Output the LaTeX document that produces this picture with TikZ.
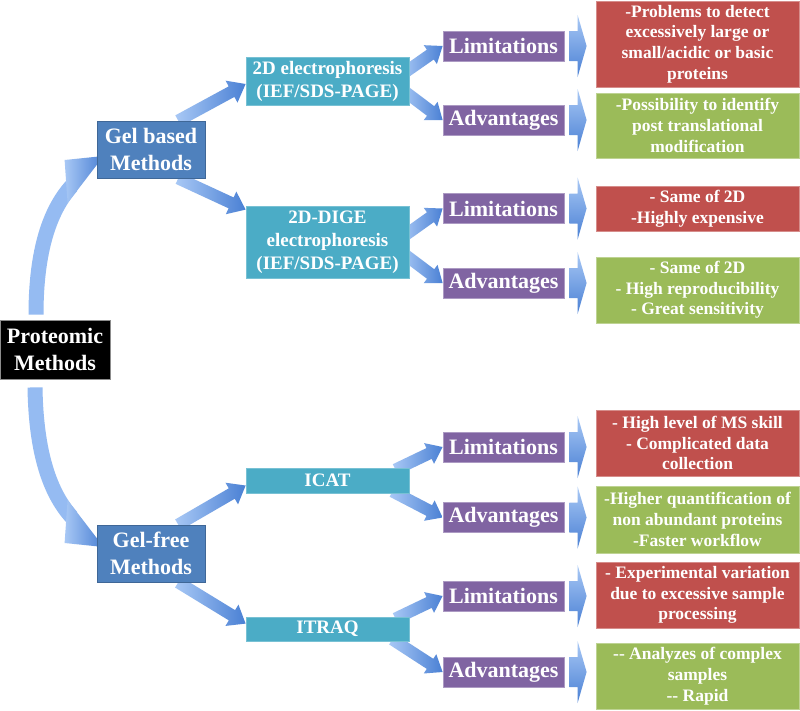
\documentclass[tikz,border=0pt]{standalone}
\usepackage{fontspec}
\newfontfamily\figfont{Liberation Serif}
\usetikzlibrary{calc}
\pgfdeclarelayer{background}
\pgfdeclarelayer{canvas}
\pgfsetlayers{canvas,background,main}
\definecolor{cblue}{HTML}{4F81BD}
\definecolor{caqua}{HTML}{4BACC6}
\definecolor{cpurple}{HTML}{8064A2}
\definecolor{cred}{HTML}{C0504D}
\definecolor{cgreen}{HTML}{9BBB59}
\definecolor{alight}{HTML}{A8C8F5}
\definecolor{adark}{HTML}{4A80D4}
\definecolor{ashaft}{HTML}{95BBF2}
\newcommand\fszbig{\fontsize{22}{27}\selectfont}
\newcommand\fszmid{\fontsize{19}{23}\selectfont}
\newcommand\fszsmall{\fontsize{17.5}{20.7}\selectfont}
% #1 shading options, #2 start, #3 tip, #4 half shaft, #5 head length, #6 half head
\newcommand\blockarrow[6]{%
  \coordinate (ba-s) at (#2);
  \coordinate (ba-t) at (#3);
  \coordinate (ba-b) at ($(ba-t)!#5!(ba-s)$);
  \shade[#1] ($(ba-s)!#4!90:(ba-t)$) -- ($(ba-b)!#4!90:(ba-t)$) -- ($(ba-b)!#6!90:(ba-t)$)
     -- (ba-t) -- ($(ba-b)!#6!-90:(ba-t)$) -- ($(ba-b)!#4!-90:(ba-t)$) -- ($(ba-s)!#4!-90:(ba-t)$) -- cycle;
}
\tikzset{
  basebox/.style={inner sep=0pt, text=white, align=center, font=\figfont\bfseries, line width=0.8pt},
  protbox/.style={basebox, fill=black, draw=black!45, minimum width=110pt, minimum height=59pt, font=\figfont\bfseries\fszbig},
  methbox/.style={basebox, fill=cblue, draw=cblue!80!black, minimum width=108pt, minimum height=57pt, font=\figfont\bfseries\fszbig},
  techbox/.style={basebox, fill=caqua, draw=caqua!75!white, minimum width=163pt, font=\figfont\bfseries\fszmid},
  labbox/.style={basebox, fill=cpurple, draw=cpurple!65!white, minimum width=121pt, minimum height=30pt, font=\figfont\bfseries\fszbig},
  redbox/.style={basebox, fill=cred, draw=cred!65!white, minimum width=203pt, font=\figfont\bfseries\fszsmall},
  greenbox/.style={basebox, fill=cgreen, draw=cgreen!65!white, minimum width=203pt, font=\figfont\bfseries\fszsmall},
  diagshade/.style={left color=alight, right color=adark},
  chevshade/.style={top color=alight, bottom color=adark}
}
\begin{document}
\begin{tikzpicture}[x=1pt,y=1pt]
\begin{pgfonlayer}{canvas}
\fill[white] (0,0) rectangle (800,-710);
\end{pgfonlayer}
\useasboundingbox (0,0) rectangle (800,-710);

% level 0 and 1
\node[protbox] (prot) at (55,-349.5) {Proteomic\\Methods};
\node[methbox] (gel) at (151,-149.5) {Gel based\\Methods};
\node[methbox] (gfree) at (151,-553.5) {Gel-free\\Methods};

% techniques
\node[techbox, minimum height=48pt] (d2) at (327.5,-81) {2D electrophoresis\\(IEF/SDS-PAGE)};
\node[techbox, minimum height=72pt] (dige) at (327.5,-242) {2D-DIGE\\electrophoresis\\(IEF/SDS-PAGE)};
\node[techbox, minimum height=25pt] (icat) at (327.5,-480.5) {ICAT};
\node[techbox, minimum height=24pt] (itraq) at (327.5,-629) {ITRAQ};

% limitations / advantages
\node[labbox] (l1) at (503.5,-46) {Limitations};
\node[labbox] (a1) at (503.5,-120) {Advantages};
\node[labbox] (l2) at (503.5,-208.5) {Limitations};
\node[labbox] (a2) at (503.5,-283) {Advantages};
\node[labbox] (l3) at (503.5,-447) {Limitations};
\node[labbox] (a3) at (503.5,-517.5) {Advantages};
\node[labbox] (l4) at (503.5,-596) {Limitations};
\node[labbox] (a4) at (503.5,-672) {Advantages};

% detail boxes
\node[redbox, minimum height=86pt] (r1) at (697.5,-44) {-Problems to detect\\excessively large or\\small/acidic or basic\\proteins};
\node[greenbox, minimum height=65pt] (g1) at (697.5,-125.5) {-Possibility to identify\\post translational\\modification};
\node[redbox, minimum height=45pt] (r2) at (697.5,-208.5) {- Same of 2D\\-Highly expensive};
\node[greenbox, minimum height=66pt] (g2) at (697.5,-290) {- Same of 2D\\- High reproducibility\\- Great sensitivity};
\node[redbox, minimum height=66pt] (r3) at (697.5,-443) {- High level of MS skill\\- Complicated data\\collection};
\node[greenbox, minimum height=67pt] (g3) at (697.5,-519.5) {-Higher quantification of\\non abundant proteins\\-Faster workflow};
\node[redbox, minimum height=66pt] (r4) at (697.5,-595) {- Experimental variation\\due to excessive sample\\processing};
\node[greenbox, minimum height=66pt] (g4) at (697.5,-676) {-{}- Analyzes of complex\\samples\\-{}- Rapid};

\begin{pgfonlayer}{background}
% curved arrows from Proteomic Methods
\draw[ashaft, line width=15pt] ($(prot.north)+(-19,5)$) .. controls (36,-250) and (50,-210) .. ($(gel.west)+(-25,-36.5)$);
\shade[left color=alight, right color=adark] ($(gel.west)+(-32,-10.5)$) -- ($(gel.west)+(7,-6.5)$) -- ($(gel.west)+(-29,-53.5)$) -- cycle;
\draw[ashaft, line width=15pt] ($(prot.south)+(-20,-8)$) .. controls (36,-453) and (50,-493) .. ($(gfree.west)+(-25,36.5)$);
\shade[left color=alight, right color=adark] ($(gfree.west)+(-32,10.5)$) -- ($(gfree.west)+(7,6.5)$) -- ($(gfree.west)+(-29,53.5)$) -- cycle;

% methods -> techniques
\blockarrow{diagshade}{$(gel.north)!0.5!(gel.north east)$}{$(d2.west)+(0,-3)$}{6pt}{16pt}{12.5pt}
\blockarrow{diagshade}{$(gel.south)!0.5!(gel.south east)$}{$(dige.north west)+(0,-4)$}{6pt}{16pt}{12.5pt}
\blockarrow{diagshade}{$(gfree.north)!0.5!(gfree.north east)$}{$(icat.west)+(0,-5)$}{6pt}{16pt}{12.5pt}
\blockarrow{diagshade}{$(gfree.south)!0.5!(gfree.south east)$}{$(itraq.north west)+(0,-7)$}{6pt}{16pt}{12.5pt}

% techniques -> limitations / advantages
\blockarrow{diagshade}{$(d2.east)+(-4,9)$}{l1.west}{6pt}{15pt}{11.5pt}
\blockarrow{diagshade}{$(d2.east)+(-4,-11)$}{a1.west}{6pt}{15pt}{11.5pt}
\blockarrow{diagshade}{$(dige.east)+(-4,7)$}{l2.west}{6pt}{15pt}{11.5pt}
\blockarrow{diagshade}{$(dige.east)+(-4,-13)$}{a2.west}{6pt}{15pt}{11.5pt}
\blockarrow{diagshade}{$(icat.north east)+(-14,-2)$}{l3.west}{6pt}{15pt}{11.5pt}
\blockarrow{diagshade}{$(icat.south east)+(-17,2)$}{a3.west}{6pt}{15pt}{11.5pt}
\blockarrow{diagshade}{$(itraq.north east)+(-14,-2)$}{l4.west}{6pt}{15pt}{11.5pt}
\blockarrow{diagshade}{$(itraq.south east)+(-17,2)$}{a4.west}{6pt}{15pt}{11.5pt}
\end{pgfonlayer}

% chevron arrows to detail boxes
\blockarrow{chevshade}{$(l1.east)+(5,0)$}{$(l1.east -| r1.west)+(-9,0)$}{15pt}{9pt}{31pt}
\blockarrow{chevshade}{$(a1.east)+(5,0)$}{$(a1.east -| g1.west)+(-9,0)$}{15pt}{9pt}{31pt}
\blockarrow{chevshade}{$(l2.east)+(5,0)$}{$(l2.east -| r2.west)+(-9,0)$}{15pt}{9pt}{31pt}
\blockarrow{chevshade}{$(a2.east)+(5,0)$}{$(a2.east -| g2.west)+(-9,0)$}{15pt}{9pt}{31pt}
\blockarrow{chevshade}{$(l3.east)+(5,0)$}{$(l3.east -| r3.west)+(-9,0)$}{15pt}{9pt}{31pt}
\blockarrow{chevshade}{$(a3.east)+(5,0)$}{$(a3.east -| g3.west)+(-9,0)$}{15pt}{9pt}{31pt}
\blockarrow{chevshade}{$(l4.east)+(5,0)$}{$(l4.east -| r4.west)+(-9,0)$}{15pt}{9pt}{31pt}
\blockarrow{chevshade}{$(a4.east)+(5,0)$}{$(a4.east -| g4.west)+(-9,0)$}{15pt}{9pt}{31pt}
\end{tikzpicture}
\end{document}
